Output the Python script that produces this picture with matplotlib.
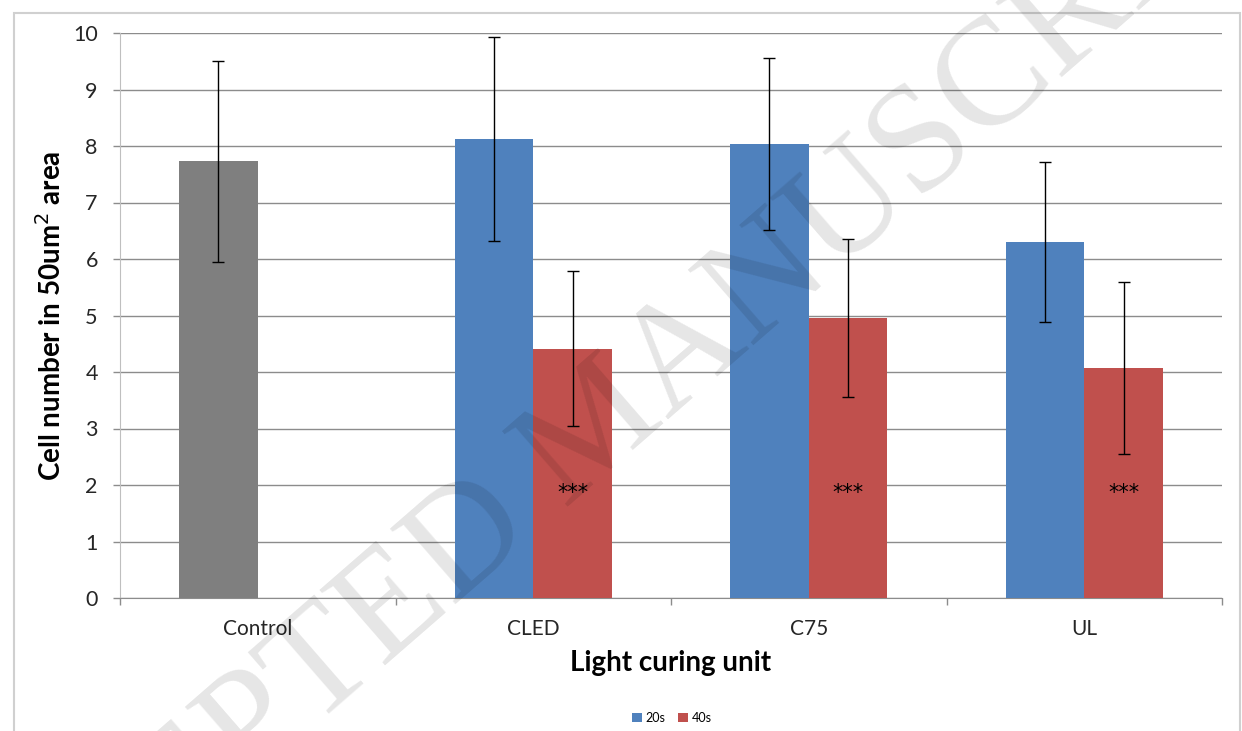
import numpy as np
import matplotlib.pyplot as plt
from matplotlib.patches import Rectangle

plt.rcParams['font.family'] = ['Lato', 'DejaVu Sans']

# data
units = ['Control', 'CLED', 'C75', 'UL']
control_mean = 7.73
control_sd = 1.78
mean_20s = [8.12, 8.04, 6.30]
sd_20s = [1.81, 1.52, 1.41]
mean_40s = [4.41, 4.96, 4.07]
sd_40s = [1.37, 1.40, 1.53]
star_level = 1.75

blue = '#4F81BD'
red = '#C0504D'
gray = '#7F7F7F'
grid_col = '#8C8C8C'

fig = plt.figure(figsize=(12.42, 7.31), dpi=100)
ax = fig.add_axes([120 / 1242, 1 - 598 / 731, 1102 / 1242, 565 / 731])

w = 1 / 3.5
x = np.arange(len(units))
err_kw = dict(ecolor='black', elinewidth=1, capsize=4, capthick=1)

ax.bar(x[0] - w / 2, control_mean, w, color=gray, yerr=control_sd,
       error_kw=err_kw, zorder=3)
ax.bar(x[1:] - w / 2, mean_20s, w, color=blue, yerr=sd_20s,
       error_kw=err_kw, zorder=3, label='20s')
ax.bar(x[1:] + w / 2, mean_40s, w, color=red, yerr=sd_40s,
       error_kw=err_kw, zorder=3, label='40s')

for xi in x[1:]:
    ax.text(xi + w / 2, star_level, '***', ha='center', va='baseline',
            fontsize=15, family='DejaVu Sans', color='black', zorder=5)

ax.set_xlim(-0.5, 3.5)
ax.set_ylim(0, 10)
ax.set_yticks(range(0, 11))
ax.yaxis.grid(True, color=grid_col, linewidth=1, zorder=0)
ax.set_axisbelow(True)

# category labels between boundary ticks
ax.set_xticks(np.arange(-0.5, 4, 1))
ax.set_xticklabels([])
ax.set_xticks(x, minor=True)
ax.set_xticklabels(units, minor=True, fontsize=15, color='#262626')
ax.tick_params(axis='x', which='major', length=5, color=grid_col, width=1)
ax.tick_params(axis='x', which='minor', length=0, pad=15)
ax.tick_params(axis='y', length=5, color=grid_col, width=1, labelsize=15.5,
               labelcolor='#262626', pad=11)

for side in ['top', 'right']:
    ax.spines[side].set_visible(False)
ax.spines['left'].set_color('#BFBFBF')
ax.spines['bottom'].set_color(grid_col)

ax.set_ylabel('Cell number in 50um$^2$ area', fontsize=20, fontweight='bold',
              labelpad=5)
ax.set_xlabel('Light curing unit', fontsize=20, fontweight='bold', labelpad=8)

fig.legend(loc='center', bbox_to_anchor=(672 / 1242, 1 - 718 / 731), ncol=2,
           frameon=False, fontsize=9, handlelength=0.8, handleheight=0.8,
           handletextpad=0.3, columnspacing=1.0)

# outer chart frame
fig.patches.append(Rectangle((14 / 1242, -0.05), 1226 / 1242, 1.05 - 13 / 731,
                             transform=fig.transFigure, fill=False,
                             edgecolor='#D0D0D0', linewidth=1.5))

# watermark
fig.text(600 / 1242, 1 - 430 / 731, 'ACCEPTED MANUSCRIPT', fontsize=110,
         family='Liberation Serif', color='black', alpha=0.1, rotation=41,
         ha='center', va='center', zorder=10)

fig.savefig('out.png', dpi=100)
